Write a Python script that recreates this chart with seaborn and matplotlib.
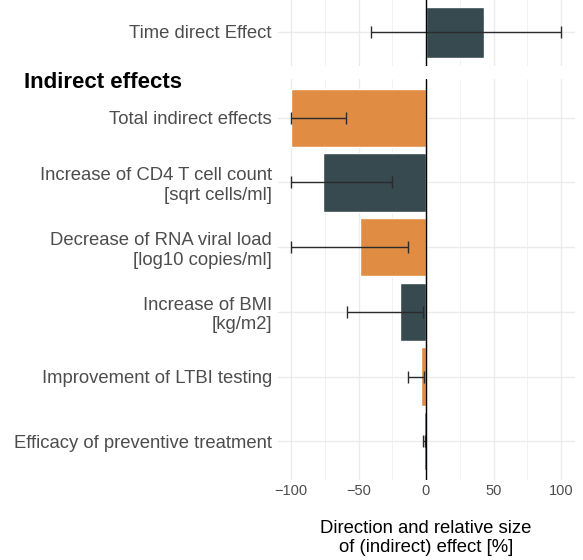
import matplotlib
matplotlib.use("Agg")
import matplotlib.pyplot as plt
from matplotlib.ticker import MultipleLocator
import seaborn as sns
import pandas as pd

sns.set_theme(style="whitegrid")
plt.rcParams["font.family"] = ["Liberation Sans", "DejaVu Sans"]

# Direct effect
direct_labels = ["Time direct Effect"]
direct_effect = [43]
direct_lower = [-41]
direct_upper = [100]

# Indirect (mediated) effects, relative size in %
indirect_labels = [
    "Total indirect effects",
    "Increase of CD4 T cell count\n[sqrt cells/ml]",
    "Decrease of RNA viral load\n[log10 copies/ml]",
    "Increase of BMI\n[kg/m2]",
    "Improvement of LTBI testing",
    "Efficacy of preventive treatment",
]
indirect_effect = [-100, -76, -49, -19.5, -3.8, -1.2]
indirect_lower = [-100, -100, -100, -58.5, -13, -2.5]
indirect_upper = [-59, -25.5, -13, -2, -1.2, -0.5]

ORANGE = "#E08D43"
SLATE = "#364A50"
indirect_colors = [ORANGE, SLATE, ORANGE, SLATE, ORANGE, SLATE]
direct_colors = [SLATE]

W, H = 583, 560
fig = plt.figure(figsize=(W / 100, H / 100), dpi=100)

def px_axes(x0, y0, x1, y1):
    return fig.add_axes([x0 / W, 1 - y1 / H, (x1 - x0) / W, (y1 - y0) / H])

ax_top = px_axes(277.5, -2, 574.5, 66)
ax_bot = px_axes(277.5, 79, 574.5, 480)

def draw_panel(ax, labels, eff, lo, hi, colors, show_x):
    df = pd.DataFrame({"label": labels, "effect": eff})
    sns.barplot(data=df, x="effect", y="label", hue="label", palette=colors,
                orient="h", width=0.9, saturation=1, legend=False,
                errorbar=None, ax=ax, zorder=2)
    xerr = [[e - l for e, l in zip(eff, lo)], [h - e for e, h in zip(eff, hi)]]
    ax.errorbar(eff, range(len(labels)), xerr=xerr, fmt="none",
                ecolor="#2b2b2b", elinewidth=1.0, capsize=4.3, capthick=1.0,
                zorder=4)
    ax.axvline(0, color="black", lw=1.0, zorder=5)
    ax.set_xlim(-110, 110)
    ax.set_ylim(len(labels) - 0.4, -0.6)
    ax.xaxis.set_major_locator(MultipleLocator(50))
    ax.xaxis.set_minor_locator(MultipleLocator(25))
    ax.set_axisbelow(True)
    ax.grid(True, which="major", axis="both", color="#EBEBEB", lw=1.0)
    ax.grid(True, which="minor", axis="x", color="#F2F2F2", lw=0.7)
    for s in ax.spines.values():
        s.set_visible(False)
    ax.set_ylabel("")
    ax.tick_params(axis="y", length=0, pad=4, labelsize=13.3, labelcolor="#4D4D4D")
    ax.tick_params(axis="x", which="both", length=0, pad=3, labelsize=10.5,
                   labelcolor="#4D4D4D")
    if not show_x:
        ax.set_xlabel("")
        ax.tick_params(axis="x", labelbottom=False)

draw_panel(ax_top, direct_labels, direct_effect, direct_lower, direct_upper,
           direct_colors, False)
draw_panel(ax_bot, indirect_labels, indirect_effect, indirect_lower,
           indirect_upper, indirect_colors, True)
ax_top.set_ylim(0.6, -0.6)

ax_bot.set_xlabel("Direction and relative size\nof (indirect) effect [%]",
                  fontsize=13.3, color="black", labelpad=16, linespacing=1.15)

fig.text(24 / W, 1 - 82 / H, "Indirect effects", fontsize=16,
         fontweight="bold", color="black", ha="left", va="center")

fig.savefig("out.png", dpi=100, facecolor="white")
